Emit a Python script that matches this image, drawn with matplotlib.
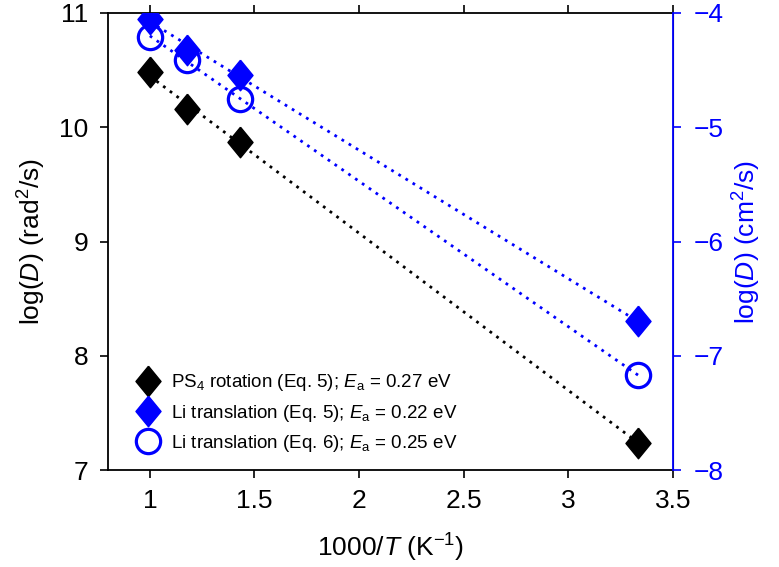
import matplotlib
matplotlib.use("Agg")
import matplotlib.pyplot as plt
import numpy as np

plt.rcParams['font.family'] = ['Liberation Sans', 'DejaVu Sans']
plt.rcParams['mathtext.fontset'] = 'custom'
plt.rcParams['mathtext.rm'] = 'Liberation Sans'
plt.rcParams['mathtext.it'] = 'Liberation Sans:italic'

# 1000/T values (K^-1)
inv_T = np.array([1.0, 1.176, 1.429, 3.333])

# PS4 rotation, log(D) in rad^2/s (left axis)
ps4_rot = np.array([10.48, 10.16, 9.87, 7.24])
# Li translation, log(D) in cm^2/s (right axis)
li_eq5 = np.array([-4.05, -4.32, -4.54, -6.70])
li_eq6 = np.array([-4.21, -4.41, -4.75, -7.17])

labels = [r"PS$_4$ rotation (Eq. 5); $E_\mathrm{a}$ = 0.27 eV",
          r"Li translation (Eq. 5); $E_\mathrm{a}$ = 0.22 eV",
          r"Li translation (Eq. 6); $E_\mathrm{a}$ = 0.25 eV"]

blue = "#0000ff"
# slightly tall diamond
diamond = [(0, 1), (0.82, 0), (0, -1), (-0.82, 0), (0, 1)]

fig = plt.figure(figsize=(7.79, 5.67), dpi=100)
ax = fig.add_axes([108 / 779, 1 - 470 / 567, 565 / 779, 457 / 567])
ax2 = ax.twinx()

xfit = np.linspace(inv_T.min(), inv_T.max(), 50)
dots = (0, (1, 2))

def fitline(a, y, color):
    c = np.polyfit(inv_T, y, 1)
    a.plot(xfit, np.polyval(c, xfit), ls=dots, lw=2, color=color)

fitline(ax, ps4_rot, "black")
fitline(ax2, li_eq5, blue)
fitline(ax2, li_eq6, blue)

h1, = ax.plot(inv_T, ps4_rot, marker=diamond, color="black", ms=22, ls="none")
h2, = ax2.plot(inv_T, li_eq5, marker=diamond, color=blue, ms=22, ls="none")
h3, = ax2.plot(inv_T, li_eq6, "o", mfc="none", mec=blue, mew=2.3, ms=17.5,
               ls="none")

ax.set_xlim(0.8, 3.5)
ax.set_ylim(7, 11)
ax2.set_ylim(-8, -4)
ax.set_xticks([1, 1.5, 2, 2.5, 3, 3.5])
ax.set_xticklabels(["1", "1.5", "2", "2.5", "3", "3.5"])
ax.set_yticks([7, 8, 9, 10, 11])
ax2.set_yticks([-8, -7, -6, -5, -4])
ax2.set_yticklabels(["\u22128", "\u22127", "\u22126", "\u22125", "\u22124"])

ax.tick_params(axis="both", direction="out", length=6, width=1.2,
               labelsize=19, top=True, pad=8)
ax2.tick_params(axis="y", direction="out", length=6, width=1.2,
                labelsize=19, colors=blue, pad=9)
for s in ["left", "bottom", "top"]:
    ax.spines[s].set_linewidth(1.3)
ax2.spines["right"].set_color(blue)
ax2.spines["right"].set_linewidth(1.3)
for s in ["left", "bottom", "top"]:
    ax2.spines[s].set_visible(False)

ax.set_xlabel(r"1000/$T$ (K$^{-1}$)", fontsize=19, labelpad=13)
ax.set_ylabel(r"log($D$) (rad$^2$/s)", fontsize=19, labelpad=8)
ax2.set_ylabel(r"log($D$) (cm$^2$/s)", fontsize=19, color=blue, labelpad=5)

leg = ax2.legend([h1, h2, h3], labels, loc="lower left", frameon=False,
                 fontsize=13.5, handletextpad=0.45, labelspacing=0.5,
                 borderaxespad=0, borderpad=0, handlelength=1.6,
                 bbox_to_anchor=(0.044, 0.035))

fig.savefig("out.png", dpi=100)
